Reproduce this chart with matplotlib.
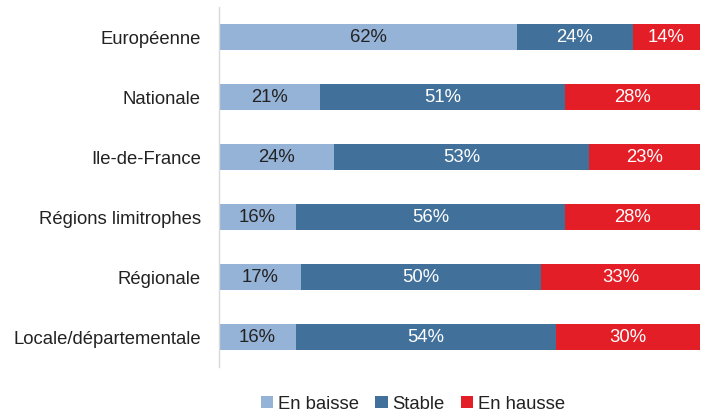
import matplotlib
matplotlib.use("Agg")
import matplotlib.pyplot as plt
import numpy as np

plt.rcParams['font.family'] = ['Liberation Sans', 'DejaVu Sans']

categories = ["Européenne", "Nationale", "Ile-de-France", "Régions limitrophes",
              "Régionale", "Locale/départementale"]
en_baisse = [62, 21, 24, 16, 17, 16]
stable = [24, 51, 53, 56, 50, 54]
en_hausse = [14, 28, 23, 28, 33, 30]
series_names = ["En baisse", "Stable", "En hausse"]
colors = ["#95B3D7", "#41709A", "#E41E26"]
text_colors = ["#222222", "white", "white"]

fig = plt.figure(figsize=(7.03, 4.14), dpi=100)
ax = fig.add_axes([219/703, 1-368/414, 481/703, 360/414])

y = np.arange(len(categories))
left = np.zeros(len(categories))
for vals, name, c, tc in zip([en_baisse, stable, en_hausse], series_names, colors, text_colors):
    vals = np.array(vals, dtype=float)
    ax.barh(y, vals, left=left, height=0.42, color=c, label=name, edgecolor='none')
    for yi, l, v in zip(y, left, vals):
        ax.text(l + v/2, yi, f"{int(v)}%", ha='center', va='center', color=tc, fontsize=13.3)
    left += vals

ax.set_xlim(0, 100)
ax.set_ylim(len(categories)-0.5, -0.5)
ax.set_yticks(y)
ax.set_yticklabels(categories, fontsize=13.3, color='#222222')
ax.tick_params(axis='y', length=0, pad=13)
ax.set_xticks([])
for s in ['top', 'right', 'bottom']:
    ax.spines[s].set_visible(False)
ax.spines['left'].set_color('#D9D9D9')
ax.spines['left'].set_linewidth(1)

fig.legend(loc='center', bbox_to_anchor=(413/703, 1-405/414), ncol=3, frameon=False,
           fontsize=13.3, handlelength=0.65, handleheight=0.65, handletextpad=0.25,
           columnspacing=0.9, labelcolor='#222222')

fig.savefig("out.png", dpi=100)
